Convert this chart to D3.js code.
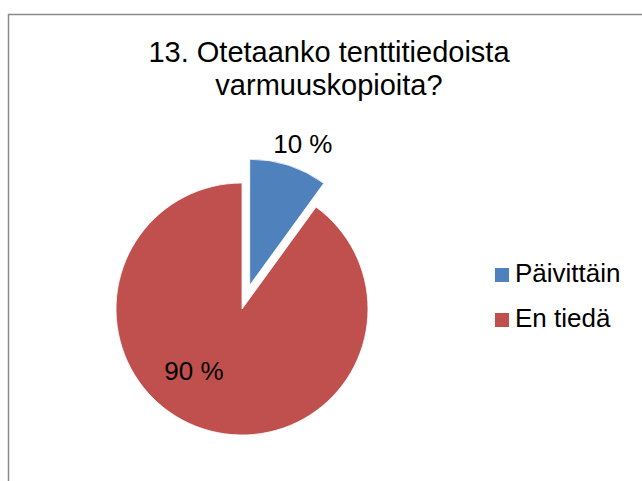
<!DOCTYPE html>
<html>
<head>
<meta charset="utf-8">
<script src="https://cdn.jsdelivr.net/npm/d3@7"></script>
<style>
  body { margin: 0; background: #fff; }
  svg { display: block; font-family: "Liberation Sans", Arial, sans-serif; }
</style>
</head>
<body>
<svg width="642" height="481"></svg>
<script>
var categories = ["Päivittäin", "En tiedä"];
var values = [10, 90];
var labels = ["10 %", "90 %"];
var colors = ["#4F81BD", "#C0504D"];
var titleLines = ["13. Otetaanko tenttitiedoista", "varmuuskopioita?"];

var svg = d3.select("svg");

// chart frame (right and bottom edges run off the page)
svg.append("rect")
  .attr("x", 8.5)
  .attr("y", 14.5)
  .attr("width", 700)
  .attr("height", 500)
  .style("fill", "#fff")
  .style("stroke", "#8a8a8a")
  .style("stroke-width", 1.5);

svg.append("g")
  .selectAll("text")
  .data(titleLines)
  .enter()
  .append("text")
  .attr("x", 329)
  .attr("y", (d, i) => 62 + i * 33)
  .attr("text-anchor", "middle")
  .attr("font-size", "29px")
  .style("fill", "#000")
  .text((d) => d);

var cx = 242, cy = 309, radius = 126, explode = 25;

var pie = d3.pie().sort(null).value((d) => d);
var arcs = pie(values);

var arc = d3.arc().innerRadius(0).outerRadius(radius);

var g = svg.append("g").attr("transform", "translate(" + cx + "," + cy + ")");

// only the first slice is pulled out
function offset(d, i) {
  var mid = (d.startAngle + d.endAngle) / 2;
  var p = i === 0 ? d3.pointRadial(mid, explode) : [0, 0];
  return p;
}

g.selectAll("path")
  .data(arcs)
  .enter()
  .append("path")
  .attr("d", arc)
  .attr("transform", (d, i) => "translate(" + offset(d, i) + ")")
  .style("fill", (d, i) => colors[i])
  .style("stroke", "#fff")
  .style("stroke-width", 0.8);

// label placement like excel's best fit: small one outside, big one inside
var labelPos = [
  { r: 151, shift: 0.045 },
  { r: 78, shift: 0.35 },
];

g.selectAll(".lbl")
  .data(arcs)
  .enter()
  .append("text")
  .attr("class", "lbl")
  .attr("transform", (d, i) => {
    var mid = (d.startAngle + d.endAngle) / 2 + labelPos[i].shift;
    var o = offset(d, i);
    var p = d3.pointRadial(mid, labelPos[i].r);
    return "translate(" + (p[0] + o[0]) + "," + (p[1] + o[1]) + ")";
  })
  .attr("dy", "0.36em")
  .attr("text-anchor", "middle")
  .attr("font-size", "26px")
  .style("fill", "#000")
  .text((d, i) => labels[i]);

var legend = svg.append("g").attr("transform", "translate(495,268)");

var item = legend.selectAll("g")
  .data(categories)
  .enter()
  .append("g")
  .attr("transform", (d, i) => "translate(0," + i * 45 + ")");

item.append("rect")
  .attr("width", 14)
  .attr("height", 14)
  .style("fill", (d, i) => colors[i]);

item.append("text")
  .attr("x", 20)
  .attr("y", 14)
  .attr("font-size", "26px")
  .style("fill", "#000")
  .text((d) => d);
</script>
</body>
</html>
